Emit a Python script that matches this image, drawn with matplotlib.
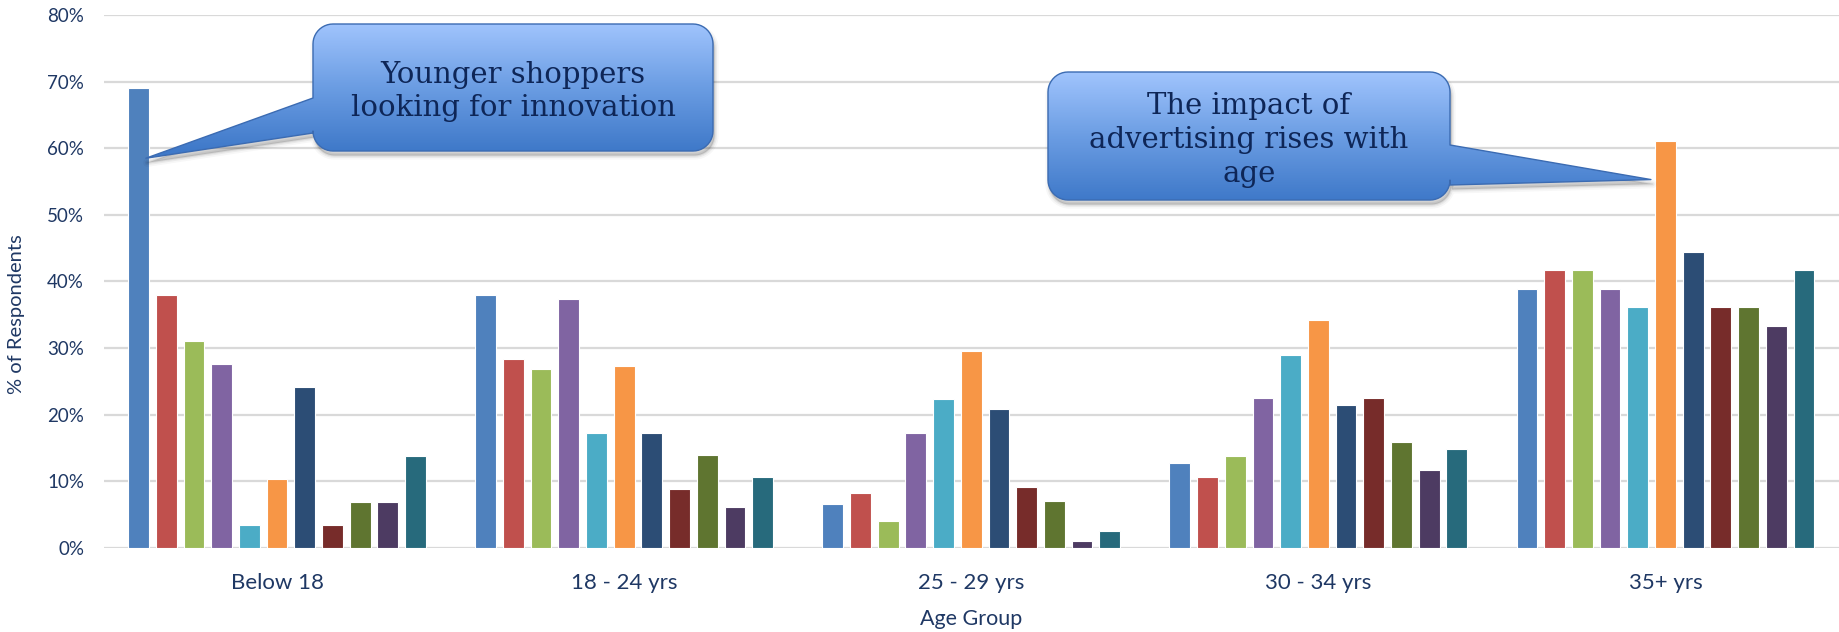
import numpy as np
import matplotlib
matplotlib.use("Agg")
import matplotlib.pyplot as plt
from matplotlib.path import Path
from matplotlib.patches import PathPatch
from matplotlib.colors import LinearSegmentedColormap

# ---- data -------------------------------------------------------------
age_groups = ["Below 18", "18 - 24 yrs", "25 - 29 yrs", "30 - 34 yrs", "35+ yrs"]

# share of respondents (%) for each of the 11 factors, per age group
below_18    = [69.0, 37.9, 31.0, 27.6,  3.4, 10.3, 24.1,  3.4,  6.9,  6.9, 13.8]
age_18_24   = [38.0, 28.4, 26.9, 37.4, 17.3, 27.3, 17.3,  8.9, 14.0,  6.1, 10.6]
age_25_29   = [ 6.6,  8.2,  4.0, 17.2, 22.4, 29.6, 20.9,  9.2,  7.1,  1.0,  2.6]
age_30_34   = [12.8, 10.6, 13.8, 22.5, 28.9, 34.2, 21.4, 22.5, 15.9, 11.7, 14.9]
age_35_plus = [38.9, 41.7, 41.7, 38.9, 36.1, 61.1, 44.4, 36.1, 36.1, 33.3, 41.7]

y_ticks = [0, 10, 20, 30, 40, 50, 60, 70, 80]

series_colors = ["#4F81BD", "#C0504D", "#9BBB59", "#8064A2", "#4BACC6", "#F79646",
                 "#2C4D75", "#772C2A", "#5F7530", "#4D3B62", "#276A7C"]

note_young = "Younger shoppers\nlooking for innovation"
note_adv = "The impact of\nadvertising rises with\nage"

# ---- figure -----------------------------------------------------------
W, H = 1839, 632
DPI = 100
TEXT = "#1F3864"
NOTE = "#0E2657"
TICK_FONT = "Lato"
NOTE_FONT = "DejaVu Serif"

fig = plt.figure(figsize=(W / DPI, H / DPI), dpi=DPI)
ax = fig.add_axes([103.5 / W, (H - 548) / H, (W - 103.5) / W, (548 - 15) / H])

table = np.array([below_18, age_18_24, age_25_29, age_30_34, age_35_plus])  # groups x series
n_groups, n_series = table.shape
x = np.arange(n_groups)
pitch = 0.0798
bar_w = 0.0597

for i in range(n_series):
    offs = (i - (n_series - 1) / 2) * pitch
    ax.bar(x + offs, table[:, i], width=bar_w, color=series_colors[i],
           edgecolor="white", linewidth=0.8, zorder=3)

ax.set_xlim(-0.5, n_groups - 0.5)
ax.set_ylim(0, 80)
ax.set_yticks(y_ticks)
ax.set_yticklabels([f"{t}%" for t in y_ticks], fontsize=13.5, color=TEXT, family=TICK_FONT)
ax.set_xticks(x)
ax.set_xticklabels(age_groups, fontsize=16, color=TEXT, family=TICK_FONT)
ax.tick_params(axis="both", length=0)
ax.tick_params(axis="y", pad=14)
ax.tick_params(axis="x", pad=18)
for s in ax.spines.values():
    s.set_visible(False)
ax.yaxis.grid(True, color="#D9D9D9", linewidth=1.6, zorder=0)
ax.set_axisbelow(True)

ax.set_ylabel("% of Respondents", fontsize=14.5, color=TEXT, family=TICK_FONT)
ax.yaxis.set_label_coords((25 - 103.5) / (W - 103.5), (548 - 314) / (548 - 15))
ax.set_xlabel("Age Group", fontsize=15.5, color=TEXT, family=TICK_FONT)
ax.xaxis.set_label_coords(0.5, -(619 - 548) / (548 - 15))
ax.xaxis.label.set_va("center")

# ---- callouts (drawn in pixel space on an overlay) ---------------------
ov = fig.add_axes([0, 0, 1, 1], zorder=5)
ov.set_xlim(0, W)
ov.set_ylim(0, H)
ov.axis("off")
ov.patch.set_alpha(0)


def arc(cx, cy, r, a0, a1, n=12):
    t = np.radians(np.linspace(a0, a1, n))
    return list(zip(cx + r * np.cos(t), cy + r * np.sin(t)))


def callout_path(x0, y0, x1, y1, r, side, base_lo, base_hi, tip):
    v = []
    v += arc(x1 - r, y0 + r, r, -90, 0)
    if side == "right":
        v += [(x1, base_lo), tip, (x1, base_hi)]
    v += arc(x1 - r, y1 - r, r, 0, 90)
    v += arc(x0 + r, y1 - r, r, 90, 180)
    if side == "left":
        v += [(x0, base_hi), tip, (x0, base_lo)]
    v += arc(x0 + r, y0 + r, r, 180, 270)
    v.append(v[0])
    codes = [Path.MOVETO] + [Path.LINETO] * (len(v) - 2) + [Path.CLOSEPOLY]
    return Path(v, codes)


grad = LinearSegmentedColormap.from_list(
    "callout", [(0.0, "#3F79C9"), (0.5, "#6B9DE3"), (1.0, "#A0C4FD")])


def draw_callout(box, side, base, tip, text):
    x0, y0, x1, y1 = box
    path = callout_path(x0, y0, x1, y1, 20, side, base[0], base[1], tip)
    # soft drop shadow
    sh = Path(path.vertices + np.array([1.5, -4.5]), path.codes)
    for lw, a in [(6, 0.03), (3.5, 0.05), (1.5, 0.07)]:
        ov.add_patch(PathPatch(sh, facecolor=(0, 0, 0, a), edgecolor=(0, 0, 0, a),
                               linewidth=lw, joinstyle="round", zorder=1))
    # vertical gradient fill clipped to the shape
    bx = path.get_extents()
    ys = np.linspace(bx.y1, bx.y0, 200)
    t = np.clip((ys - y0) / (y1 - y0), 0, 1)[:, None]
    img = ov.imshow(t, cmap=grad, vmin=0, vmax=1, aspect="auto",
                    extent=[bx.x0, bx.x1, bx.y0, bx.y1], zorder=2, interpolation="bilinear")
    clip = PathPatch(path, transform=ov.transData, facecolor="none", edgecolor="none")
    ov.add_patch(clip)
    img.set_clip_path(clip)
    ov.add_patch(PathPatch(path, facecolor="none", edgecolor="#3B6BB2", linewidth=1.0,
                           joinstyle="round", zorder=3))
    ov.text((x0 + x1) / 2, (y0 + y1) / 2 - 4, text, ha="center", va="center",
            fontsize=21, color=NOTE, family=NOTE_FONT, linespacing=1.25, zorder=4)


to_px = ax.transData
# pointer to the tall "Below 18" bar
tip1 = to_px.transform((0 - 5 * pitch + 0.35 * bar_w, 58.5))
draw_callout((313, H - 151, 713, H - 24), "left", (H - 133, H - 98), tuple(tip1), note_young)
# pointer to the tall "35+ yrs" bar
tip2 = to_px.transform((4 - 0.5 * bar_w - 0.012, 55.3))
draw_callout((1048, H - 200, 1450, H - 72), "right", (H - 185, H - 145), tuple(tip2), note_adv)

fig.savefig("out.png", dpi=DPI)
